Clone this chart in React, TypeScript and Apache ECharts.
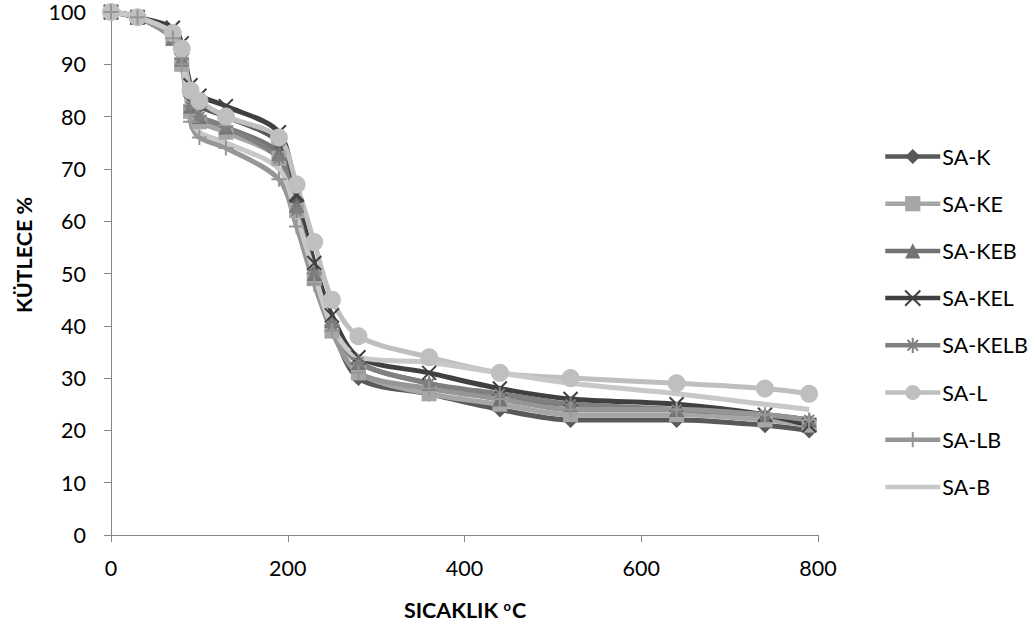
import React, { useEffect, useRef } from "react";
import * as echarts from "echarts";

const temps = [0, 30, 70, 80, 90, 100, 130, 190, 210, 230, 250, 280, 360, 440, 520, 640, 740, 790];

const seriesNames = ["SA-K", "SA-KE", "SA-KEB", "SA-KEL", "SA-KELB", "SA-L", "SA-LB", "SA-B"];

const saK = [100, 99, 96, 92, 84, 82, 80, 75, 64, 50, 40, 30, 27, 24, 22, 22, 21, 20];
const saKE = [100, 99, 95, 90, 81, 79, 77, 72, 62, 49, 39, 31, 27, 25, 23, 23, 22, 21];
const saKEB = [100, 99, 95, 91, 82, 80, 78, 73, 63, 50, 41, 33, 29, 26, 25, 24, 23, 22];
const saKEL = [100, 99, 97, 94, 86, 84, 82, 77, 65, 52, 42, 34, 31, 28, 26, 25, 23, 21];
const saKELB = [100, 99, 95, 91, 82, 80, 78, 72, 62, 50, 40, 33, 29, 27, 25, 24, 23, 22];
const saL = [100, 99, 96, 93, 85, 83, 80, 76, 67, 56, 45, 38, 34, 31, 30, 29, 28, 27];
const saLB = [100, 99, 95, 90, 79, 76, 74, 68, 59, 48, 39, 31, 28, 26, 24, 24, 23, 22];
const saB = [100, 99, 96, 91, 80, 77, 75, 70, 61, 50, 40, 34, 33, 31, 29, 27, 25, 24];

const yTicks = [0, 10, 20, 30, 40, 50, 60, 70, 80, 90, 100];
const xTicks = [0, 200, 400, 600, 800];

const allValues = [saK, saKE, saKEB, saKEL, saKELB, saL, saLB, saB];
const colors = ["#595959", "#A6A6A6", "#737373", "#404040", "#808080", "#BFBFBF", "#969696", "#C8C8C8"];
const symbols = [
  "diamond",
  "rect",
  "triangle",
  "path://M0,0L10,10M10,0L0,10",
  "path://M5,0L5,10M0,5L10,5M1.5,1.5L8.5,8.5M8.5,1.5L1.5,8.5",
  "circle",
  "path://M5,0L5,10M0,5L10,5",
  "none",
];
const symbolSizes = [16, 15, 15, 14, 14, 18, 15, 0];

const FONT = "Lato, 'Open Sans', sans-serif";
const FS = 21.5;

export default function App() {
  const ref = useRef<HTMLDivElement>(null);
  useEffect(() => {
    if (!ref.current) return;
    const chart = echarts.init(ref.current, undefined, { renderer: "svg" });
    const series = seriesNames.map((name, i) => {
      const isPath = symbols[i].startsWith("path://");
      return {
        name,
        type: "line",
        smooth: 0.3,
        data: temps.map((t, j) => [t, allValues[i][j]]),
        symbol: symbols[i],
        symbolSize: symbolSizes[i],
        showSymbol: symbols[i] !== "none",
        lineStyle: { color: colors[i], width: 5 },
        itemStyle: isPath
          ? { color: colors[i], borderColor: colors[i], borderWidth: 2 }
          : { color: colors[i] },
        emphasis: { disabled: true },
      };
    });
    const legendData = seriesNames.map((name, i) =>
      symbols[i] === "none"
        ? { name, icon: "path://M0,0L55,0L55,4.5L0,4.5Z" }
        : { name }
    );
    chart.setOption({
      animation: false,
      textStyle: { fontFamily: FONT },
      grid: { left: 111, right: 217, top: 12, bottom: 92 },
      legend: {
        orient: "vertical",
        left: 878,
        top: 140.5,
        itemWidth: 55,
        itemHeight: 19,
        itemGap: 25.2,
        lineStyle: { width: 4.5 },
        textStyle: { fontSize: FS, lineHeight: 19, color: "#000", fontFamily: FONT, padding: [0, 0, 0, -3] },
        data: legendData,
      },
      xAxis: {
        type: "value",
        min: xTicks[0],
        max: xTicks[xTicks.length - 1],
        interval: 200,
        axisLine: { show: true, onZero: false, lineStyle: { color: "#868686", width: 1 } },
        axisTick: { show: true, length: 7, lineStyle: { color: "#868686" } },
        splitLine: { show: false },
        axisLabel: { fontSize: FS, color: "#000", margin: 22, fontFamily: FONT },
      },
      yAxis: {
        type: "value",
        min: yTicks[0],
        max: yTicks[yTicks.length - 1],
        interval: 10,
        axisLine: { show: true, lineStyle: { color: "#868686", width: 1 } },
        axisTick: { show: true, length: 7, lineStyle: { color: "#868686" } },
        splitLine: { show: false },
        axisLabel: { fontSize: FS, color: "#000", margin: 25, fontFamily: FONT },
      },
      graphic: [
        {
          type: "text",
          x: 24,
          y: 255,
          rotation: Math.PI / 2,
          style: {
            text: "KÜTLECE %",
            font: `bold ${FS}px ${FONT}`,
            fill: "#000",
            align: "center",
            verticalAlign: "middle",
          },
        },
        {
          type: "text",
          x: 465,
          y: 610,
          style: {
            text: "SICAKLIK {s|o}C",
            font: `bold ${FS}px ${FONT}`,
            fill: "#000",
            align: "center",
            verticalAlign: "middle",
            rich: {
              s: { fontSize: 13, fontWeight: "bold", fontFamily: FONT, verticalAlign: "top", padding: [0, 1, 9, 0] },
            },
          },
        },
      ],
      series,
    });
    return () => chart.dispose();
  }, []);
  return (
    <div
      ref={ref}
      style={{ position: "fixed", left: 0, top: 0, width: 1035, height: 627, background: "#fff" }}
    />
  );
}
